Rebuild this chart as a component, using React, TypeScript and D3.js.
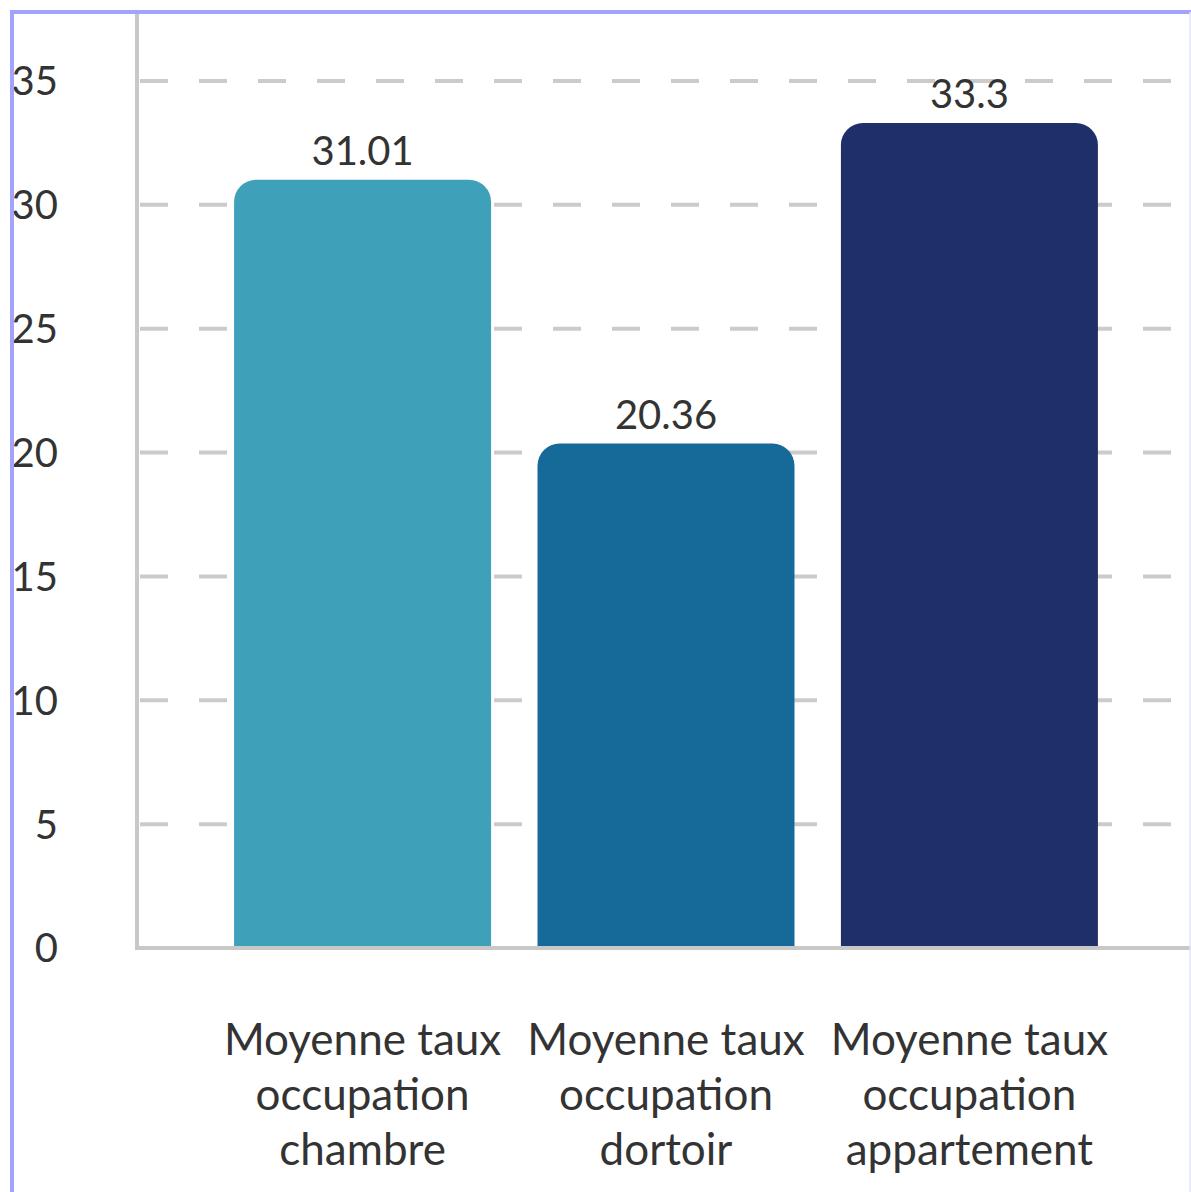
import React from "react";
import * as d3 from "d3";

const categories: string[] = [
  "Moyenne taux occupation chambre",
  "Moyenne taux occupation dortoir",
  "Moyenne taux occupation appartement",
];
const categoryLines: string[][] = [
  ["Moyenne taux", "occupation", "chambre"],
  ["Moyenne taux", "occupation", "dortoir"],
  ["Moyenne taux", "occupation", "appartement"],
];
const values: number[] = [31.01, 20.36, 33.3];
const valueLabels: string[] = ["31.01", "20.36", "33.3"];
const colors: string[] = ["#3EA0B9", "#156A9A", "#1F3069"];
const yTicks: number[] = [0, 5, 10, 15, 20, 25, 30, 35];

const W = 1191;
const H = 1192;
const FONT = "Lato, 'Open Sans', sans-serif";

function topRoundedRect(x: number, y: number, w: number, h: number, r: number) {
  const rr = Math.min(r, w / 2, h);
  const p = d3.path();
  p.moveTo(x, y + h);
  p.lineTo(x, y + rr);
  p.arcTo(x, y, x + rr, y, rr);
  p.lineTo(x + w - rr, y);
  p.arcTo(x + w, y, x + w, y + rr, rr);
  p.lineTo(x + w, y + h);
  p.closePath();
  return p.toString();
}

export default function App() {
  const axisX = 137;
  const y = d3.scaleLinear().domain([0, 37.7]).range([948, 14]);
  const x = d3
    .scaleBand<string>()
    .domain(categories)
    .range([axisX, 1195])
    .paddingInner(0.153)
    .paddingOuter(0.32);

  return (
    <svg
      width={W}
      height={H}
      style={{ position: "absolute", left: 0, top: 0, background: "#fff" }}
      fontFamily={FONT}
    >
      <rect x={0} y={0} width={W} height={H} fill="#fff" />
      {/* grid lines */}
      {yTicks
        .filter((t) => t > 0)
        .map((t) => (
          <line
            key={"g" + t}
            x1={axisX + 3}
            x2={1178}
            y1={y(t)}
            y2={y(t)}
            stroke="#cbcbcb"
            strokeWidth={4}
            strokeDasharray="28 31"
          />
        ))}
      {/* bars */}
      {categories.map((c, i) => {
        const bx = x(c) as number;
        const by = y(values[i]);
        return (
          <path
            key={"b" + i}
            d={topRoundedRect(bx, by, x.bandwidth(), y(0) - by, 22)}
            fill={colors[i]}
          />
        );
      })}
      {/* value labels */}
      {categories.map((c, i) => (
        <text
          key={"v" + i}
          x={(x(c) as number) + x.bandwidth() / 2}
          y={y(values[i]) - 15}
          textAnchor="middle"
          fontSize={40}
          fill="#333"
        >
          {valueLabels[i]}
        </text>
      ))}
      {/* axes */}
      <line x1={axisX} x2={axisX} y1={12} y2={950} stroke="#c8c8c8" strokeWidth={4} />
      <line x1={axisX - 2} x2={1191} y1={y(0)} y2={y(0)} stroke="#c8c8c8" strokeWidth={4} />
      {/* y tick labels */}
      {yTicks.map((t) => (
        <text
          key={"t" + t}
          x={58}
          y={y(t)}
          dy="0.36em"
          textAnchor="end"
          fontSize={40}
          fill="#333"
        >
          {t}
        </text>
      ))}
      {/* category labels */}
      {categories.map((c, i) => (
        <text
          key={"c" + i}
          x={(x(c) as number) + x.bandwidth() / 2}
          textAnchor="middle"
          fontSize={44}
          fill="#333"
        >
          {categoryLines[i].map((ln, j) => (
            <tspan key={j} x={(x(c) as number) + x.bandwidth() / 2} y={1055 + j * 55}>
              {ln}
            </tspan>
          ))}
        </text>
      ))}
      {/* frame */}
      <line x1={12} x2={12} y1={10} y2={H} stroke="#a3a3fb" strokeWidth={4} />
      <line x1={10} x2={W} y1={12} y2={12} stroke="#a3a3fb" strokeWidth={4} />
      <line x1={1190} x2={1190} y1={12} y2={H} stroke="#e4e4fb" strokeWidth={1.5} />
    </svg>
  );
}
